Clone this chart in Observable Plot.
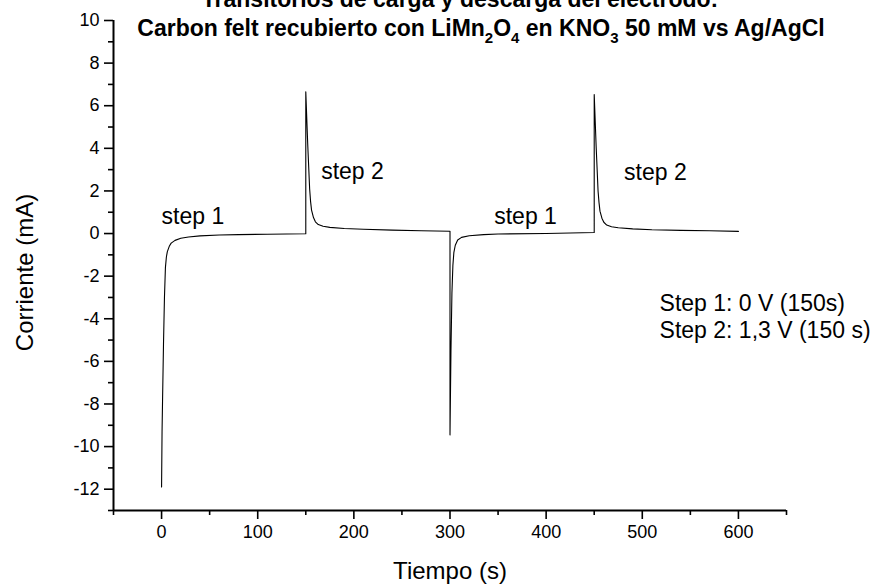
<!DOCTYPE html>
<html><head><meta charset="utf-8">
<script src="https://cdn.jsdelivr.net/npm/d3@7"></script>
<script src="https://cdn.jsdelivr.net/npm/@observablehq/plot@0.6"></script>
<style>
body{margin:0;background:#fff;font-family:"Liberation Sans",Arial,sans-serif;}
#wrap{position:relative;width:883px;height:587px;overflow:hidden;background:#fff;}
.tl{position:absolute;white-space:nowrap;font-weight:bold;font-size:23px;transform:translateX(-50%);line-height:23px;}
.tl sub{font-size:15px;vertical-align:-7px;line-height:0;}
#chart{position:absolute;left:0;top:0;}
</style></head><body>
<div id="wrap">
<div id="chart"></div>
<div class="tl" id="t1" style="left:460px;top:-12px;">Transitorios de carga y descarga del electrodo:</div>
<div class="tl" id="t2" style="left:481px;top:17px;">Carbon felt recubierto con LiMn<sub>2</sub>O<sub>4</sub> en KNO<sub>3</sub> 50 mM vs Ag/AgCl</div>
</div>
<script>
// Time (s) and current (mA)
const time = [
  0, 0.5, 1, 2, 3, 4, 5, 6, 8, 10, 14, 20, 28, 40, 60, 80, 110, 150,
  150, 152, 154, 155, 156, 158, 160, 163, 168, 175, 190, 210, 240, 270, 300,
  300, 301, 302, 303, 304, 305.5, 308, 312, 320, 335, 350, 400, 450,
  450, 452, 454, 455, 456, 458, 460, 463, 468, 475, 490, 510, 540, 570, 600
];
const current = [
  -11.9, -9.3, -7.9, -5.2, -3.0, -1.6, -1.1, -0.85, -0.6, -0.45, -0.32, -0.22, -0.16, -0.11, -0.07, -0.05, -0.03, -0.01,
  6.65, 4.2, 2.1, 1.5, 1.1, 0.75, 0.55, 0.42, 0.34, 0.29, 0.24, 0.2, 0.16, 0.13, 0.11,
  -9.45, -5.5, -2.8, -1.5, -0.9, -0.55, -0.3, -0.18, -0.1, -0.05, -0.02, 0.0, 0.05,
  6.53, 4.1, 2.0, 1.45, 1.05, 0.72, 0.53, 0.4, 0.32, 0.27, 0.22, 0.18, 0.15, 0.13, 0.1
];
const xMajorTicks = [0, 100, 200, 300, 400, 500, 600];
const xMinorTicks = [-50, 50, 150, 250, 350, 450, 550, 650];
const yMajorTicks = [-12, -10, -8, -6, -4, -2, 0, 2, 4, 6, 8, 10];
const yMinorTicks = [-13, -11, -9, -7, -5, -3, -1, 1, 3, 5, 7, 9];
const annotLabels = ["step 1", "step 2", "step 1", "step 2", "Step 1: 0 V (150s)", "Step 2: 1,3 V (150 s)"];
const annotX = [0, 166, 346, 481, 518, 518];
const annotY = [0.8, 2.9, 0.8, 2.85, -3.31, -4.58];
const xLabel = "Tiempo (s)";
const yLabel = "Corriente (mA)";

const data = time.map((t, i) => ({t, c: current[i]}));
const annots = annotLabels.map((s, i) => ({s, x: annotX[i], y: annotY[i]}));

const plot = Plot.plot({
  width: 883, height: 587,
  marginLeft: 113, marginRight: 97, marginTop: 20, marginBottom: 77,
  style: {fontFamily: "'Liberation Sans', Arial, sans-serif", fontSize: "18px", color: "#000", background: "transparent"},
  x: {domain: [-50, 650]},
  y: {domain: [-13, 10]},
  marks: [
    Plot.axisX({ticks: xMajorTicks, tickSize: 9, tickPadding: 6, tickFormat: d => String(d), label: null, fontSize: 18, strokeWidth: 1.6}),
    Plot.axisX({ticks: xMinorTicks, tickSize: 5, tickFormat: () => "", label: null, strokeWidth: 1.6}),
    Plot.axisY({ticks: yMajorTicks, tickSize: 9, tickPadding: 5, tickFormat: d => String(d), label: null, fontSize: 18, strokeWidth: 1.6}),
    Plot.axisY({ticks: yMinorTicks, tickSize: 5, tickFormat: () => "", label: null, strokeWidth: 1.6}),
    Plot.ruleX([-50], {y1: -13, y2: 10, strokeWidth: 2}),
    Plot.ruleY([-13], {x1: -50, x2: 650, strokeWidth: 2}),
    Plot.line(data, {x: "t", y: "c", stroke: "#000", strokeWidth: 1.1}),
    Plot.text(annots, {x: "x", y: "y", text: "s", textAnchor: "start", fontSize: 23}),
    Plot.text([yLabel], {frameAnchor: "left", textAnchor: "middle", rotate: -90, dx: -88, dy: 7, fontSize: 24}),
    Plot.text([xLabel], {frameAnchor: "bottom", dy: 68, fontSize: 24})
  ]
});
document.getElementById("chart").appendChild(plot);
</script>
</body></html>
